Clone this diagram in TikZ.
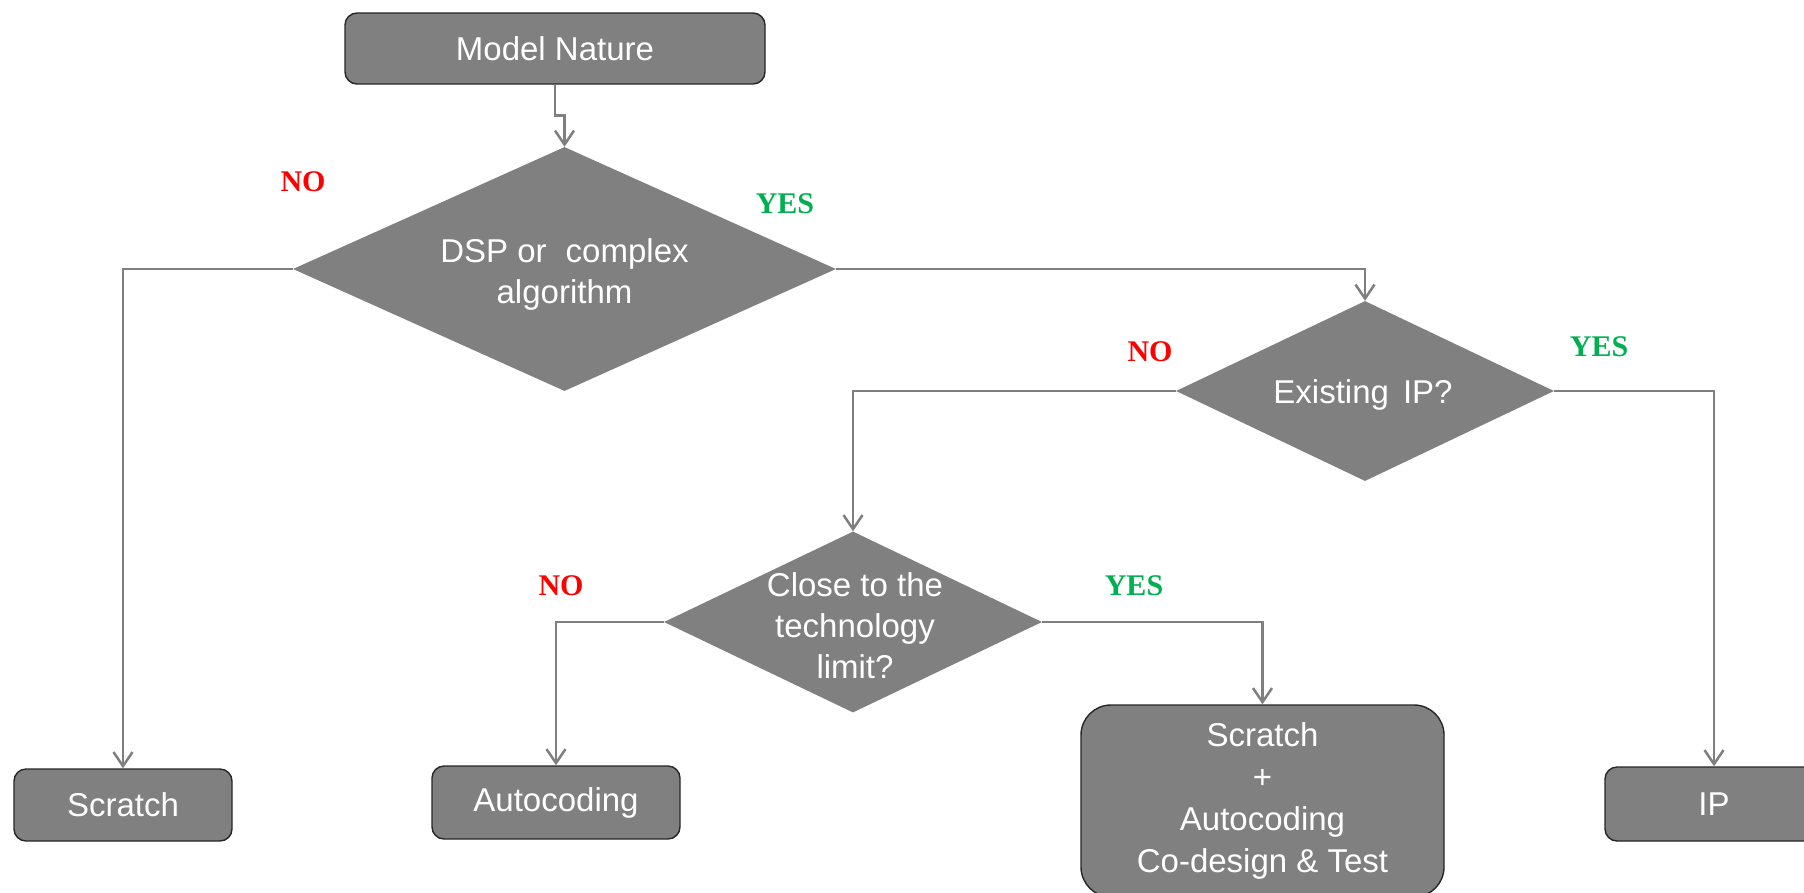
\documentclass[tikz,border=0pt]{standalone}
\usepackage{fontspec}
\setmainfont{Liberation Sans}
\newfontfamily\labelfont{Liberation Serif}
\usetikzlibrary{arrows.meta,shapes.geometric}
\definecolor{boxgray}{HTML}{808080}
\definecolor{linegray}{HTML}{7F7F7F}
\definecolor{nored}{HTML}{FF0000}
\definecolor{yesgreen}{HTML}{00B050}
\tikzset{
  box/.style={draw=black!85, line width=1.4pt, fill=boxgray, rounded corners=12pt,
    text=white, align=center, inner sep=0pt,
    font=\fontsize{33}{42}\selectfont},
  dia/.style={diamond, fill=boxgray, inner sep=0pt},
  diatext/.style={text=white, align=center, font=\fontsize{33}{41}\selectfont},
  conn/.style={draw=linegray, line width=2.5pt,
    -{Straight Barb[length=14pt,width=19pt,line width=2.5pt]}},
  nolabel/.style={text=nored, font=\labelfont\bfseries\fontsize{30}{30}\selectfont},
  yeslabel/.style={text=yesgreen, font=\labelfont\bfseries\fontsize{30}{30}\selectfont}
}
\begin{document}
\begin{tikzpicture}[x=1pt,y=-1pt]
\useasboundingbox (0,0) rectangle (1804,892);

% terminal and result boxes
\node[box, minimum width=420pt, minimum height=71pt] (model) at (555,48.5) {Model Nature};
\node[box, minimum width=218pt, minimum height=72pt] (scratch) at (123,805) {Scratch};
\node[box, minimum width=248pt, minimum height=73pt] (auto) at (556,802.5) {Autocoding};
\node[box, minimum width=218pt, minimum height=74pt] (ip) at (1714,804) {IP};
\node[box, rounded corners=30pt, minimum width=363pt, minimum height=192pt] (mixed) at (1262.5,801)
  {Scratch\\+\\Autocoding\\Co-design \& Test};

% decision diamonds
\node[dia, minimum width=543pt, minimum height=244pt] (d1) at (564.5,269) {};
\node[diatext] at (564.5,274) {DSP or\hspace{0.3em} complex\\algorithm};
\node[dia, minimum width=378pt, minimum height=180pt] (d2) at (1365,391) {};
\node[diatext] at (1363,395) {Existing\hspace{0.15em} IP?};
\node[dia, minimum width=378pt, minimum height=181pt] (d3) at (853,622) {};
\node[diatext] at (855,626) {Close to the\\technology\\limit?};

% branch labels
\node[nolabel] at (303,182) {NO};
\node[yeslabel] at (785,204) {YES};
\node[nolabel] at (1150,352) {NO};
\node[yeslabel] at (1599,347) {YES};
\node[nolabel] at (561,586) {NO};
\node[yeslabel] at (1134,586) {YES};

% connectors
\draw[conn] (model.south) -- ++(0,31) -| (d1.north);
\draw[conn] (d1.west) -| (scratch.north);
\draw[conn] (d1.east) -| (d2.north);
\draw[conn] (d2.west) -| (d3.north);
\draw[conn] (d2.east) -| (ip.north);
\draw[conn] (d3.west) -| (auto.north);
\draw[conn] (d3.east) -| (mixed.north);
\end{tikzpicture}
\end{document}
